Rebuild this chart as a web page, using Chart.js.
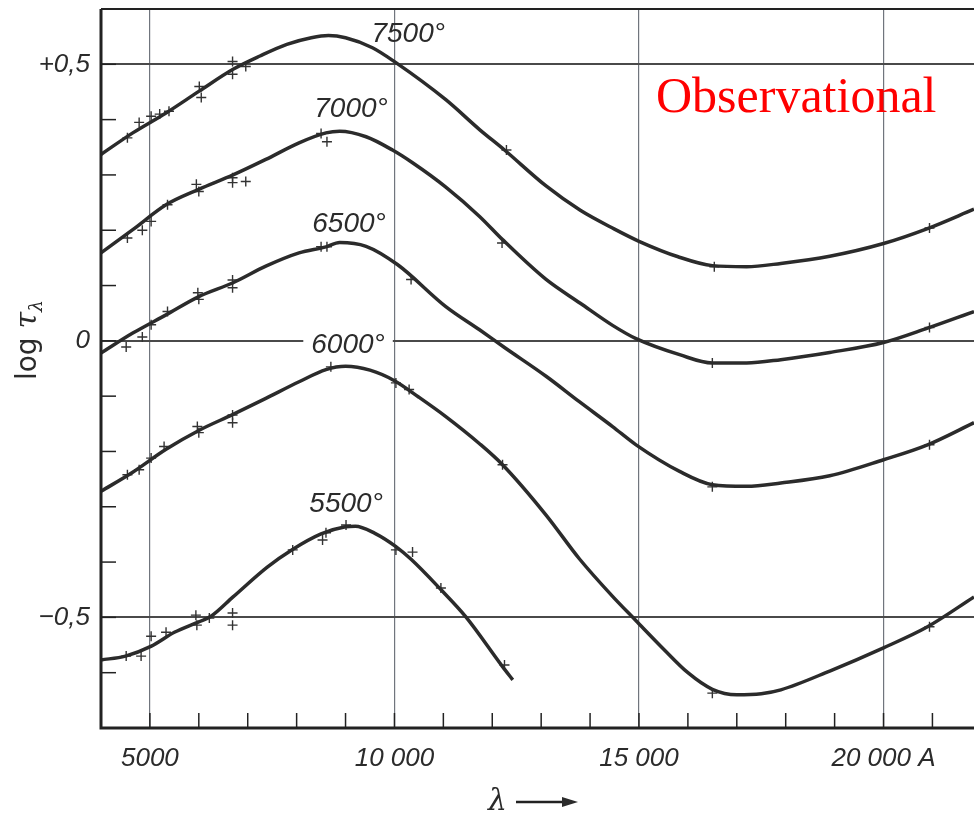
<!DOCTYPE html>
<html>
<head>
<meta charset="utf-8">
<script src="https://cdn.jsdelivr.net/npm/chart.js@4.4.1/dist/chart.umd.min.js"></script>
<style>
html, body { margin: 0; padding: 0; background: #fff; overflow: hidden; }
#wrap { position: relative; width: 974px; height: 814px; }
canvas { display: block; }
</style>
</head>
<body>
<div id="wrap"><canvas id="chart"></canvas></div>
<script>
// wavelength in A, log tau
const x7500 = [4000, 4650, 5330, 6000, 6700, 7250, 7800, 8300, 8650, 9000, 9550, 10030, 11050, 11740, 12250, 13100, 13800, 14500, 15000, 15800, 16500, 17200, 17900, 18900, 20000, 20900, 21850];
const y7500 = [0.337, 0.376, 0.412, 0.451, 0.491, 0.515, 0.536, 0.548, 0.552, 0.548, 0.530, 0.503, 0.436, 0.382, 0.345, 0.280, 0.236, 0.202, 0.180, 0.152, 0.136, 0.134, 0.140, 0.153, 0.176, 0.203, 0.238];

const x7000 = [4000, 4650, 5330, 6000, 6700, 7370, 8050, 8600, 8880, 9420, 9960, 10370, 11050, 11740, 12210, 13100, 13800, 14460, 14940, 15830, 16500, 17200, 17900, 18900, 20000, 20900, 21850];
const y7000 = [0.159, 0.201, 0.246, 0.274, 0.300, 0.328, 0.358, 0.376, 0.379, 0.369, 0.345, 0.322, 0.278, 0.225, 0.183, 0.111, 0.068, 0.028, 0.004, -0.025, -0.040, -0.040, -0.034, -0.021, -0.003, 0.023, 0.053];

const x6500 = [4000, 4650, 5330, 6000, 6700, 7370, 8050, 8600, 8880, 9420, 10060, 11050, 11740, 12250, 13100, 13780, 14460, 14940, 15830, 16500, 17200, 17900, 18900, 20000, 20900, 21850];
const y6500 = [-0.022, 0.014, 0.047, 0.080, 0.105, 0.135, 0.159, 0.170, 0.178, 0.171, 0.138, 0.062, 0.020, -0.012, -0.064, -0.110, -0.155, -0.188, -0.236, -0.260, -0.263, -0.257, -0.244, -0.215, -0.188, -0.148];

const x6000 = [4000, 4640, 5330, 6000, 6700, 7370, 8050, 8600, 9000, 9500, 10000, 10500, 11050, 11740, 12210, 13100, 13780, 14460, 14940, 15500, 16000, 16500, 17000, 17500, 17900, 18900, 20000, 20900, 21850];
const y6000 = [-0.272, -0.238, -0.196, -0.162, -0.133, -0.104, -0.074, -0.052, -0.046, -0.053, -0.072, -0.102, -0.137, -0.186, -0.224, -0.315, -0.394, -0.462, -0.506, -0.557, -0.600, -0.630, -0.640, -0.638, -0.631, -0.597, -0.555, -0.517, -0.463];

const x5500 = [4000, 4500, 5030, 5500, 6000, 6250, 6700, 7400, 7900, 8500, 9000, 9200, 9600, 10030, 10340, 10920, 11460, 12210, 12420];
const y5500 = [-0.577, -0.570, -0.552, -0.527, -0.508, -0.498, -0.463, -0.409, -0.378, -0.349, -0.336, -0.335, -0.348, -0.372, -0.395, -0.447, -0.499, -0.589, -0.613];

// observed points (+)
const obsX7500 = [4540, 4780, 5025, 5200, 5390, 6010, 6050, 6690, 6690, 6960, 12290, 16540, 20940];
const obsY7500 = [0.367, 0.395, 0.406, 0.410, 0.415, 0.460, 0.440, 0.505, 0.482, 0.496, 0.345, 0.134, 0.204];
const obsX7000 = [4540, 4845, 5025, 5360, 5950, 6000, 6690, 6690, 6960, 8500, 8620, 12200, 16500, 20940];
const obsY7000 = [0.186, 0.200, 0.216, 0.246, 0.283, 0.270, 0.295, 0.286, 0.288, 0.375, 0.360, 0.177, -0.040, 0.024];
const obsX6500 = [4515, 4845, 5025, 5360, 5980, 6000, 6690, 6690, 8500, 8620, 10340, 16500, 20940];
const obsY6500 = [-0.011, 0.007, 0.029, 0.053, 0.087, 0.075, 0.110, 0.096, 0.170, 0.170, 0.111, -0.264, -0.188];
const obsX6000 = [4540, 4780, 5025, 5290, 5970, 6000, 6690, 6690, 8700, 10030, 10300, 12210, 16500, 20940];
const obsY6000 = [-0.242, -0.233, -0.212, -0.191, -0.155, -0.166, -0.134, -0.148, -0.047, -0.076, -0.088, -0.224, -0.637, -0.517];
const obsX5500 = [4515, 4820, 5025, 5330, 5940, 5960, 6215, 6690, 6690, 7920, 8530, 8600, 9010, 10030, 10370, 10950, 12250];
const obsY5500 = [-0.570, -0.570, -0.534, -0.527, -0.496, -0.514, -0.501, -0.492, -0.514, -0.378, -0.360, -0.347, -0.333, -0.378, -0.382, -0.447, -0.586];

const temps = ['7500°', '7000°', '6500°', '6000°', '5500°'];
const xTicks = [5000, 10000, 15000, 20000];
const xTickText = ['5000', '10 000', '15 000', '20 000 A'];
const yTicks = [-0.5, 0, 0.5];
const yTickText = ['\u22120,5', '0', '+0,5'];

const pts = (xs, ys) => xs.map((v, i) => ({ x: v, y: ys[i] }));

const curves = [[x7500, y7500], [x7000, y7000], [x6500, y6500], [x6000, y6000], [x5500, y5500]];
const observed = [[obsX7500, obsY7500], [obsX7000, obsY7000], [obsX6500, obsY6500], [obsX6000, obsY6000], [obsX5500, obsY5500]];

const datasets = [];
curves.forEach((c, i) => {
    datasets.push({
        label: temps[i],
        data: pts(c[0], c[1]),
        showLine: true,
        borderColor: '#2b2b2b',
        borderWidth: 3.5,
        pointRadius: 0,
        cubicInterpolationMode: 'monotone'
    });
});
observed.forEach((c, i) => {
    datasets.push({
        label: temps[i] + ' obs',
        data: pts(c[0], c[1]),
        showLine: false,
        pointStyle: 'cross',
        pointRadius: 5,
        borderWidth: 1.4,
        borderColor: '#333'
    });
});

// where the temperature labels sit (data coords, left/baseline)
const tempLabelPos = [[9530, 0.541], [8360, 0.404], [8320, 0.197], [8300, -0.022], [8260, -0.309]];

const decor = {
    id: 'decor',
    afterDatasetsDraw(chart) {
        const { ctx, chartArea: a, scales: { x, y } } = chart;
        ctx.save();
        ctx.strokeStyle = '#222';
        ctx.lineCap = 'butt';

        // frame
        ctx.lineWidth = 3;
        ctx.beginPath();
        ctx.moveTo(a.left, a.top);
        ctx.lineTo(a.left, a.bottom);
        ctx.lineTo(a.right, a.bottom);
        ctx.stroke();
        ctx.lineWidth = 2;
        ctx.beginPath();
        ctx.moveTo(a.left, a.top);
        ctx.lineTo(a.right, a.top);
        ctx.stroke();

        // small inward ticks
        ctx.lineWidth = 1.5;
        for (let v = 5000; v <= 21000; v += 1000) {
            const px = x.getPixelForValue(v);
            ctx.beginPath();
            ctx.moveTo(px, a.bottom);
            ctx.lineTo(px, a.bottom - 15);
            ctx.stroke();
        }
        for (let k = -6; k <= 5; k++) {
            const py = y.getPixelForValue(k / 10);
            ctx.beginPath();
            ctx.moveTo(a.left, py);
            ctx.lineTo(a.left + 15, py);
            ctx.stroke();
        }

        // temperature labels
        ctx.font = 'italic 28px "Liberation Sans", Arial, sans-serif';
        ctx.textBaseline = 'alphabetic';
        ctx.textAlign = 'left';
        temps.forEach((t, i) => {
            const px = x.getPixelForValue(tempLabelPos[i][0]);
            const py = y.getPixelForValue(tempLabelPos[i][1]);
            if (i === 3) {
                const w = ctx.measureText(t).width;
                ctx.fillStyle = '#fff';
                ctx.fillRect(px - 8, py - 24, w + 16, 30);
            }
            ctx.fillStyle = '#2b2b2b';
            ctx.fillText(t, px, py);
        });

        // y title
        ctx.save();
        ctx.translate(36, 340);
        ctx.rotate(-Math.PI / 2);
        ctx.fillStyle = '#2b2b2b';
        const t1 = 'log ';
        ctx.font = '28px "DejaVu Sans", sans-serif';
        const w1 = ctx.measureText(t1).width;
        ctx.font = 'italic 30px "DejaVu Serif", serif';
        const w2 = ctx.measureText('τ').width;
        ctx.font = 'italic 19px "DejaVu Serif", serif';
        const w3 = ctx.measureText('λ').width;
        let sx = -(w1 + w2 + w3) / 2;
        ctx.font = '28px "DejaVu Sans", sans-serif';
        ctx.fillText(t1, sx, 0);
        sx += w1;
        ctx.font = 'italic 30px "DejaVu Serif", serif';
        ctx.fillText('τ', sx, 0);
        sx += w2;
        ctx.font = 'italic 19px "DejaVu Serif", serif';
        ctx.fillText('λ', sx, 6);
        ctx.restore();

        // x title
        ctx.fillStyle = '#2b2b2b';
        ctx.font = 'italic 30px "DejaVu Serif", serif';
        ctx.fillText('λ', 488, 810);
        ctx.lineWidth = 2.5;
        ctx.beginPath();
        ctx.moveTo(516, 802);
        ctx.lineTo(566, 802);
        ctx.stroke();
        ctx.beginPath();
        ctx.moveTo(578, 802);
        ctx.lineTo(562, 797);
        ctx.lineTo(562, 807);
        ctx.closePath();
        ctx.fill();

        // annotation
        ctx.fillStyle = '#ff0000';
        ctx.font = '50px "Liberation Serif", "Times New Roman", serif';
        ctx.fillText('Observational', 656, 112);

        ctx.restore();
    }
};

const tickFont = { family: '"Liberation Sans", Arial, sans-serif', style: 'italic', size: 26 };

new Chart(document.getElementById('chart'), {
    type: 'scatter',
    data: { datasets: datasets },
    options: {
        responsive: true,
        maintainAspectRatio: false,
        animation: false,
        layout: { autoPadding: false, padding: { top: 9, right: 0, left: 0, bottom: 0 } },
        plugins: {
            legend: { display: false },
            tooltip: { enabled: false }
        },
        scales: {
            x: {
                type: 'linear',
                min: 4000,
                max: 21850,
                afterBuildTicks: s => { s.ticks = xTicks.map(v => ({ value: v })); },
                afterFit: s => { s.height = 86; s.paddingLeft = 0; s.paddingRight = 0; },
                border: { display: false },
                grid: { drawTicks: false, lineWidth: 1.2, color: '#70757d' },
                ticks: {
                    padding: 15,
                    autoSkip: false,
                    maxRotation: 0,
                    color: '#2b2b2b',
                    font: tickFont,
                    callback: (v, i) => xTickText[i]
                }
            },
            y: {
                type: 'linear',
                min: -0.7,
                max: 0.6,
                afterBuildTicks: s => { s.ticks = yTicks.map(v => ({ value: v })); },
                afterFit: s => { s.width = 101; s.paddingTop = 0; s.paddingBottom = 0; },
                border: { display: false },
                grid: { drawTicks: false, lineWidth: 2, color: '#4a4a4a' },
                ticks: {
                    padding: 11,
                    autoSkip: false,
                    color: '#2b2b2b',
                    font: tickFont,
                    callback: (v, i) => yTickText[i]
                }
            }
        }
    },
    plugins: [decor]
});
</script>
</body>
</html>
